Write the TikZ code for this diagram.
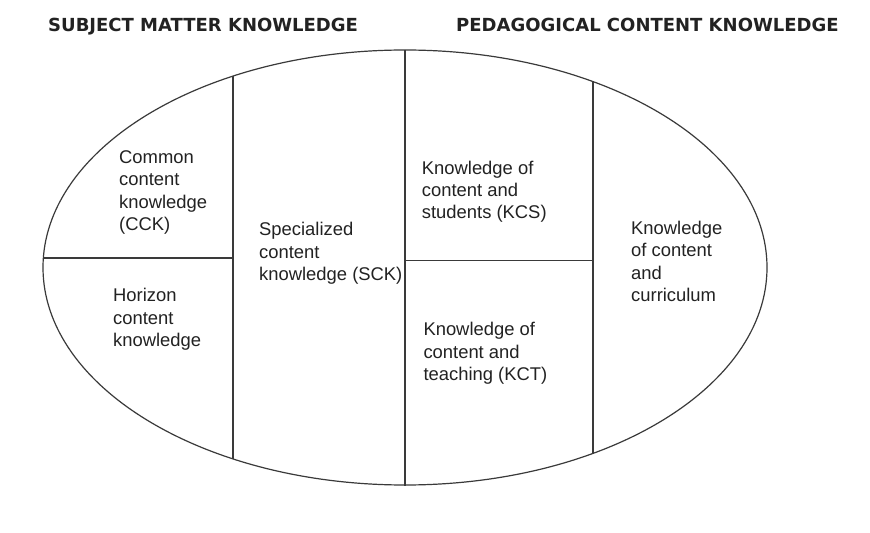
\documentclass[tikz,border=0pt]{standalone}
\usepackage{fontspec}
\setmainfont{Liberation Sans}
\newfontfamily\titlefont{DejaVu Sans}
\definecolor{linegray}{HTML}{3A3A3A}
\definecolor{textgray}{HTML}{222222}
\tikzset{
  x=1bp, y=-1bp,
  divider/.style={draw=linegray, line width=1.4bp},
  outline/.style={draw=linegray, line width=1.2bp},
  label/.style={anchor=base west, inner sep=0pt, align=left, text=textgray,
    font=\fontsize{18.4bp}{22.4bp}\selectfont},
  heading/.style={anchor=base west, inner sep=0pt, text=textgray,
    font=\titlefont\bfseries\fontsize{18bp}{22bp}\selectfont}
}
\begin{document}
\begin{tikzpicture}
\useasboundingbox (0,0) rectangle (870,533);
\fill[white] (0,0) rectangle (870,533);
% ellipse
\draw[outline] (405,267.5) ellipse [x radius=362, y radius=217.5];
% dividers
\draw[divider] (233,76.1) -- (233,459);
\draw[divider] (405,50) -- (405,486);
\draw[divider] (593,81.6) -- (593,453.4);
\draw[divider] (43.4,258) -- (233,258);
\draw[divider] (405,260.5) -- (593,260.5);
% headings
\node[heading] (smk) at (48,32) {SUBJECT MATTER KNOWLEDGE};
\node[heading] (pck) at (456,32) {PEDAGOGICAL CONTENT KNOWLEDGE};
% labels (anchored at the baseline of the last line)
\node[label] (cck) at (119,230.7) {Common\\content\\knowledge\\(CCK)};
\node[label] (hck) at (113,346.7) {Horizon\\content\\knowledge};
\node[label] (sck) at (259,280.7) {Specialized\\content\\knowledge (SCK)};
\node[label] (kcs) at (421.7,219) {Knowledge of\\content and\\students (KCS)};
\node[label] (kct) at (423.3,380.7) {Knowledge of\\content and\\teaching (KCT)};
\node[label] (kcc) at (631,301.7) {Knowledge\\of content\\and\\curriculum};
\end{tikzpicture}
\end{document}
